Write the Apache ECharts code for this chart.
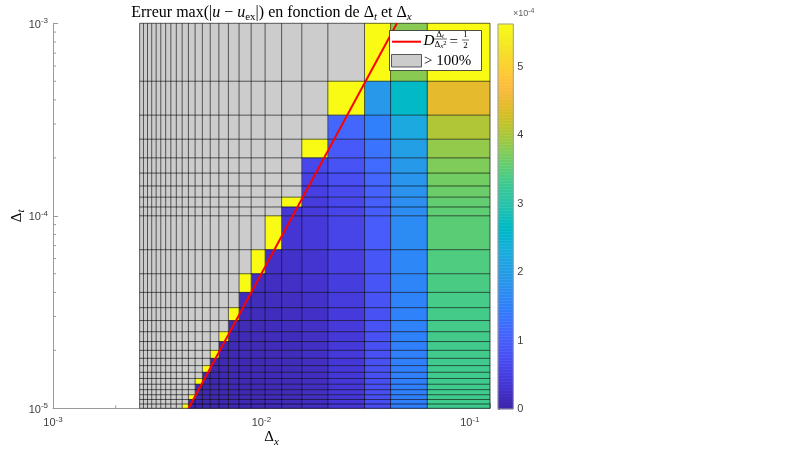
<!DOCTYPE html>
<html><head><meta charset="utf-8">
<script src="https://cdn.jsdelivr.net/npm/echarts@6/dist/echarts.min.js"></script>
<style>html,body{margin:0;padding:0;background:#fff}#c{width:792px;height:449px}</style>
</head><body><div id="c"></div>
<script>
// ---- grid of the study: Δx = 1/N, Δt = 1e-3/k ----
const nodesN = [8,16,24,32,48,64,80,96,112,128,144,160,176,192,208,224,240,256,272,288,304,320,336,352,368,384];
const stepsK = [1,2,3,4,5,6,7,8,9,10,15,20,25,30,35,40,45,50,55,60,65,70,75,80,85,90,95,100];
const dtMax = 1e-3;
// max error (×1e-4) per row (top Δt first); columns from Δx = 1/8 towards smaller Δx.
// cells after the end of a row are "> 100%" (grey); OVER = beyond the colour scale (shown yellow)
const OVER = 8;
const errRows = [
  [5.62, 3.80, OVER],
  [4.45, 2.63, 1.90, OVER],
  [4.05, 2.23, 1.50, 1.12],
  [3.86, 2.04, 1.31, 0.93, OVER],
  [3.74, 1.92, 1.19, 0.81, 0.63],
  [3.66, 1.84, 1.11, 0.73, 0.55],
  [3.61, 1.79, 1.06, 0.68, 0.50],
  [3.56, 1.74, 1.01, 0.63, 0.45, OVER],
  [3.53, 1.71, 0.98, 0.60, 0.42, 0.36],
  [3.51, 1.69, 0.96, 0.58, 0.40, 0.34, OVER],
  [3.43, 1.61, 0.88, 0.50, 0.32, 0.26, 0.24, OVER],
  [3.39, 1.57, 0.84, 0.46, 0.28, 0.22, 0.20, 0.18, OVER],
  [3.36, 1.54, 0.81, 0.43, 0.25, 0.19, 0.17, 0.15, 0.14],
  [3.35, 1.53, 0.80, 0.42, 0.24, 0.18, 0.16, 0.14, 0.13, OVER],
  [3.34, 1.52, 0.79, 0.41, 0.23, 0.17, 0.15, 0.13, 0.12, 0.11],
  [3.33, 1.51, 0.78, 0.40, 0.22, 0.16, 0.14, 0.12, 0.11, 0.10, OVER],
  [3.32, 1.50, 0.77, 0.39, 0.21, 0.15, 0.13, 0.11, 0.10, 0.10, 0.09],
  [3.32, 1.50, 0.77, 0.39, 0.21, 0.15, 0.12, 0.11, 0.10, 0.09, 0.09, OVER],
  [3.31, 1.49, 0.76, 0.38, 0.20, 0.14, 0.12, 0.10, 0.09, 0.09, 0.08, 0.08],
  [3.31, 1.49, 0.76, 0.38, 0.20, 0.14, 0.11, 0.10, 0.09, 0.08, 0.08, 0.07, OVER],
  [3.31, 1.49, 0.76, 0.38, 0.20, 0.14, 0.11, 0.10, 0.09, 0.08, 0.08, 0.07, 0.07],
  [3.30, 1.48, 0.75, 0.37, 0.19, 0.13, 0.11, 0.09, 0.08, 0.08, 0.07, 0.07, 0.06, OVER],
  [3.30, 1.48, 0.75, 0.37, 0.19, 0.13, 0.11, 0.09, 0.08, 0.07, 0.07, 0.07, 0.06, 0.06],
  [3.30, 1.48, 0.75, 0.37, 0.19, 0.13, 0.10, 0.09, 0.08, 0.07, 0.07, 0.06, 0.06, 0.06],
  [3.30, 1.48, 0.75, 0.37, 0.19, 0.13, 0.10, 0.09, 0.08, 0.07, 0.07, 0.06, 0.06, 0.06, OVER],
  [3.30, 1.48, 0.75, 0.37, 0.19, 0.13, 0.10, 0.09, 0.08, 0.07, 0.07, 0.06, 0.06, 0.06, 0.06],
  [3.29, 1.47, 0.74, 0.36, 0.18, 0.12, 0.10, 0.08, 0.07, 0.07, 0.06, 0.06, 0.05, 0.05, 0.05, OVER]
];
const cMax = 5.62;               // colour scale top (×1e-4)
const colorbarTicks = [0,1,2,3,4,5];
const stabDx = [0.004472, 0.04472]; // D Δt/Δx² = 1/2 line
const stabDt = [1e-5, 1e-3];
const xMinor = [2e-3,3e-3,4e-3,5e-3,6e-3,7e-3,8e-3,9e-3,2e-2,3e-2,4e-2,5e-2,6e-2,7e-2,8e-2,9e-2];
const yMinor = [2e-5,3e-5,4e-5,5e-5,6e-5,7e-5,8e-5,9e-5,2e-4,3e-4,4e-4,5e-4,6e-4,7e-4,8e-4,9e-4];

// ---- parula colormap ----
const PARULA = [[0.2422,0.1504,0.6603],[0.2504,0.1650,0.7076],[0.2578,0.1818,0.7511],[0.2647,0.1978,0.7952],[0.2706,0.2147,0.8364],[0.2751,0.2342,0.8710],[0.2783,0.2559,0.8991],[0.2803,0.2782,0.9221],[0.2813,0.3006,0.9414],[0.2810,0.3228,0.9579],[0.2795,0.3447,0.9717],[0.2760,0.3667,0.9829],[0.2699,0.3892,0.9906],[0.2602,0.4123,0.9952],[0.2440,0.4358,0.9988],[0.2206,0.4603,0.9973],[0.1963,0.4847,0.9892],[0.1834,0.5074,0.9798],[0.1786,0.5289,0.9682],[0.1764,0.5499,0.9520],[0.1687,0.5703,0.9359],[0.1540,0.5902,0.9218],[0.1460,0.6091,0.9079],[0.1380,0.6276,0.8973],[0.1248,0.6459,0.8883],[0.1113,0.6635,0.8763],[0.0952,0.6798,0.8598],[0.0689,0.6948,0.8394],[0.0297,0.7082,0.8163],[0.0036,0.7203,0.7917],[0.0067,0.7312,0.7660],[0.0433,0.7411,0.7394],[0.0964,0.7500,0.7120],[0.1408,0.7584,0.6842],[0.1717,0.7670,0.6554],[0.1938,0.7758,0.6251],[0.2161,0.7843,0.5923],[0.2470,0.7918,0.5567],[0.2906,0.7973,0.5188],[0.3406,0.8008,0.4789],[0.3909,0.8029,0.4354],[0.4456,0.8024,0.3909],[0.5044,0.7993,0.3480],[0.5616,0.7942,0.3045],[0.6174,0.7876,0.2612],[0.6720,0.7793,0.2227],[0.7242,0.7698,0.1910],[0.7738,0.7598,0.1646],[0.8203,0.7498,0.1535],[0.8634,0.7406,0.1596],[0.9035,0.7330,0.1774],[0.9393,0.7288,0.2100],[0.9728,0.7298,0.2394],[0.9956,0.7434,0.2371],[0.9970,0.7659,0.2199],[0.9952,0.7893,0.2028],[0.9892,0.8136,0.1885],[0.9786,0.8386,0.1766],[0.9676,0.8639,0.1643],[0.9610,0.8890,0.1537],[0.9597,0.9135,0.1423],[0.9628,0.9373,0.1265],[0.9691,0.9606,0.1064],[0.9769,0.9839,0.0805]];
function parula(f){
  f = Math.max(0, Math.min(1, f));
  const t = f*63, i = Math.min(62, Math.floor(t)), w = t - i;
  const a = PARULA[i], b = PARULA[i+1];
  return 'rgb(' + [0,1,2].map(j => Math.round(255*(a[j] + (b[j]-a[j])*w))).join(',') + ')';
}

// ---- build series data ----
const cells = [];
for (let r = 0; r < stepsK.length-1; r++) {
  const yTop = dtMax/stepsK[r], yBot = dtMax/stepsK[r+1];
  for (let c = 0; c < nodesN.length-1; c++) {
    const xR = 1/nodesN[c], xL = 1/nodesN[c+1];
    const v = c < errRows[r].length ? errRows[r][c] : -1;
    cells.push([xL, xR, yBot, yTop, v]);
  }
}
const xLo = 1/nodesN[nodesN.length-1], xHi = 1/nodesN[0];
const yLo = dtMax/stepsK[stepsK.length-1], yHi = dtMax/stepsK[0];
const vLines = nodesN.map(n => [1/n, yLo, yHi]);
const hLines = stepsK.map(k => [xLo, xHi, dtMax/k]);
const minorTicks = xMinor.map(v => [v, 1e-5, 0]).concat(yMinor.map(v => [1e-3, v, 1]));
const bands = [];
const NB = 128;
for (let i = 0; i < NB; i++) bands.push([0, 1, i/NB*cMax, (i+1)/NB*cMax, (i+0.5)/NB]);

const AX = '#9a9a9a', TXT = '#404040';
const SERIF = 'Liberation Serif';
const SANS = 'Liberation Sans';

function powLabel(v){
  const e = Math.log10(v);
  if (Math.abs(e - Math.round(e)) > 1e-6) return '';
  return '{b|10}{e|' + Math.round(e) + '}';
}
const powRich = {
  b: {fontFamily: SANS, fontSize: 11, color: TXT, lineHeight: 16},
  e: {fontFamily: SANS, fontSize: 8, color: TXT, lineHeight: 10, verticalAlign: 'top'}
};
const nameRich = {
  d: {fontFamily: SERIF, fontSize: 15, color: '#000', lineHeight: 20},
  s: {fontFamily: SERIF, fontSize: 11, fontStyle: 'italic', color: '#000', lineHeight: 12, verticalAlign: 'bottom'}
};

const chart = echarts.init(document.getElementById('c'), null, {renderer: 'canvas'});
chart.setOption({
  animation: false,
  backgroundColor: '#fff',
  grid: [
    {left: 53, top: 23.3, width: 437, height: 385, containLabel: false, outerBoundsMode: 'none'},
    {left: 498, top: 24, width: 15.3, height: 385, containLabel: false, outerBoundsMode: 'none'}
  ],
  xAxis: [
    {type: 'log', gridIndex: 0, min: 1e-3, max: 0.125, logBase: 10,
     axisLine: {show: true, lineStyle: {color: AX, width: 1}},
     axisTick: {show: true, inside: true, length: 5, lineStyle: {color: AX}},
     axisLabel: {formatter: powLabel, rich: powRich, margin: 7},
     splitLine: {show: false}, minorTick: {show: false},
     name: '{d|Δ}{s|x}', nameLocation: 'middle', nameGap: 19, nameMoveOverlap: false,
     nameTextStyle: {rich: nameRich, verticalAlign: 'top'}
    },
    {type: 'value', gridIndex: 1, min: 0, max: 1, show: false}
  ],
  yAxis: [
    {type: 'log', gridIndex: 0, min: 1e-5, max: 1e-3, logBase: 10,
     axisLine: {show: true, lineStyle: {color: AX, width: 1}},
     axisTick: {show: true, inside: true, length: 5, lineStyle: {color: AX}},
     axisLabel: {formatter: powLabel, rich: powRich, margin: 5, padding: [3, 0, 0, 0]},
     splitLine: {show: false}, minorTick: {show: false},
     name: '{d|Δ}{s|t}', nameLocation: 'middle', nameGap: 26, nameRotate: 90, nameMoveOverlap: false,
     nameTextStyle: {rich: nameRich}
    },
    {type: 'value', gridIndex: 1, min: 0, max: cMax, position: 'right',
     axisLine: {show: false},
     axisTick: {show: true, inside: false, length: 2, lineStyle: {color: '#666'}, customValues: colorbarTicks},
     axisLabel: {margin: 4, fontFamily: SANS, fontSize: 11, color: TXT, customValues: colorbarTicks},
     splitLine: {show: false}}
  ],
  series: [
    {type: 'custom', name: 'minor', xAxisIndex: 0, yAxisIndex: 0, z: 1, silent: true,
     data: minorTicks, encode: {x: 0, y: 1},
     renderItem: function(p, api){
       const pt = api.coord([api.value(0), api.value(1)]);
       const isY = api.value(2) === 1;
       return {type: 'line', shape: isY ? {x1: pt[0], y1: pt[1], x2: pt[0]+3, y2: pt[1]} : {x1: pt[0], y1: pt[1], x2: pt[0], y2: pt[1]-3},
               style: {stroke: AX, lineWidth: 1}};
     }},
    {type: 'custom', name: 'cells', xAxisIndex: 0, yAxisIndex: 0, z: 2, silent: true,
     data: cells, encode: {x: [0,1], y: [2,3]},
     renderItem: function(p, api){
       const a = api.coord([api.value(0), api.value(2)]);
       const b = api.coord([api.value(1), api.value(3)]);
       const v = api.value(4);
       const col = v < 0 ? '#cccccc' : parula(v/cMax);
       return {type: 'rect', shape: {x: a[0], y: b[1], width: b[0]-a[0], height: a[1]-b[1]},
               style: {fill: col, stroke: col, lineWidth: 0.3}};
     }},
    {type: 'custom', name: 'vgrid', xAxisIndex: 0, yAxisIndex: 0, z: 3, silent: true,
     data: vLines, encode: {x: 0, y: [1,2]},
     renderItem: function(p, api){
       const a = api.coord([api.value(0), api.value(1)]);
       const b = api.coord([api.value(0), api.value(2)]);
       return {type: 'line', shape: {x1: a[0], y1: a[1], x2: b[0], y2: b[1]}, style: {stroke: 'rgba(0,0,0,0.6)', lineWidth: 1}};
     }},
    {type: 'custom', name: 'hgrid', xAxisIndex: 0, yAxisIndex: 0, z: 3, silent: true,
     data: hLines, encode: {x: [0,1], y: 2},
     renderItem: function(p, api){
       const a = api.coord([api.value(0), api.value(2)]);
       const b = api.coord([api.value(1), api.value(2)]);
       return {type: 'line', shape: {x1: a[0], y1: a[1], x2: b[0], y2: b[1]}, style: {stroke: 'rgba(0,0,0,0.6)', lineWidth: 1}};
     }},
    {type: 'line', name: 'stab', xAxisIndex: 0, yAxisIndex: 0, z: 4, silent: true,
     data: stabDx.map((x, i) => [x, stabDt[i]]), showSymbol: false, symbol: 'none',
     lineStyle: {color: '#ff0000', width: 2}},
    {type: 'custom', name: 'colorbar', xAxisIndex: 1, yAxisIndex: 1, z: 2, silent: true,
     data: bands, encode: {x: [0,1], y: [2,3]},
     renderItem: function(p, api){
       const a = api.coord([api.value(0), api.value(2)]);
       const b = api.coord([api.value(1), api.value(3)]);
       const col = parula(api.value(4));
       return {type: 'rect', shape: {x: a[0], y: b[1], width: b[0]-a[0], height: a[1]-b[1]}, style: {fill: col, stroke: col, lineWidth: 0.5}};
     }},
    {type: 'custom', name: 'cbbox', xAxisIndex: 1, yAxisIndex: 1, z: 3, silent: true,
     data: [[0, 1, 0, cMax]], encode: {x: [0,1], y: [2,3]},
     renderItem: function(p, api){
       const a = api.coord([api.value(0), api.value(2)]);
       const b = api.coord([api.value(1), api.value(3)]);
       return {type: 'rect', shape: {x: a[0], y: b[1], width: b[0]-a[0], height: a[1]-b[1]}, style: {fill: 'none', stroke: '#a0a0a0', lineWidth: 1}};
     }}
  ],
  graphic: [
    {type: 'text', x: 271.5, y: 12.5, z: 100, silent: true,
     style: {text: '{n|Erreur max(|}{i|u}{n| − }{i|u}{sb|ex}{n||) en fonction de Δ}{si|t}{n| et Δ}{si|x}',
       align: 'center', verticalAlign: 'middle',
       rich: {
         n: {fontFamily: SERIF, fontSize: 16, fill: '#000', lineHeight: 20},
         i: {fontFamily: SERIF, fontSize: 16, fontStyle: 'italic', fill: '#000', lineHeight: 20},
         sb: {fontFamily: SERIF, fontSize: 11, fill: '#000', lineHeight: 12, verticalAlign: 'bottom'},
         si: {fontFamily: SERIF, fontSize: 11, fontStyle: 'italic', fill: '#000', lineHeight: 12, verticalAlign: 'bottom'}
       }}},
    {type: 'text', x: 513, y: 14, z: 100, silent: true,
     style: {text: '{a|×10}{e|-4}', verticalAlign: 'middle',
       rich: {a: {fontFamily: SANS, fontSize: 9, fill: '#606060', lineHeight: 12},
              e: {fontFamily: SANS, fontSize: 7, fill: '#606060', lineHeight: 8, verticalAlign: 'top'}}}},
    // legend
    {type: 'rect', z: 100, silent: true, shape: {x: 389.5, y: 30.5, width: 92, height: 40},
     style: {fill: '#fff', stroke: '#262626', lineWidth: 0.8}},
    {type: 'line', z: 101, silent: true, shape: {x1: 392, y1: 41.7, x2: 421, y2: 41.7},
     style: {stroke: '#ff0000', lineWidth: 2}},
    {type: 'text', z: 101, silent: true, x: 423.5, y: 41.5,
     style: {text: 'D', fontFamily: SERIF, fontSize: 15, fontStyle: 'italic', fill: '#000', verticalAlign: 'middle'}},
    {type: 'text', z: 101, silent: true, x: 440, y: 34.5,
     style: {text: '{d|Δ}{s|t}', align: 'center', verticalAlign: 'middle',
       rich: {d: {fontFamily: SERIF, fontSize: 9, fill: '#000', lineHeight: 10},
              s: {fontFamily: SERIF, fontSize: 7, fontStyle: 'italic', fill: '#000', lineHeight: 6, verticalAlign: 'bottom'}}}},
    {type: 'line', z: 101, silent: true, shape: {x1: 434, y1: 39, x2: 447, y2: 39}, style: {stroke: '#000', lineWidth: 0.6}},
    {type: 'text', z: 101, silent: true, x: 440.5, y: 44.5,
     style: {text: '{d|Δ}{s|x}{p|2}', align: 'center', verticalAlign: 'middle',
       rich: {d: {fontFamily: SERIF, fontSize: 9, fill: '#000', lineHeight: 10},
              s: {fontFamily: SERIF, fontSize: 7, fontStyle: 'italic', fill: '#000', lineHeight: 6, verticalAlign: 'bottom'},
              p: {fontFamily: SERIF, fontSize: 6.5, fill: '#000', lineHeight: 6, verticalAlign: 'top'}}}},
    {type: 'text', z: 101, silent: true, x: 449.5, y: 42.5,
     style: {text: '=', fontFamily: SERIF, fontSize: 15, fill: '#000', verticalAlign: 'middle'}},
    {type: 'text', z: 101, silent: true, x: 465.5, y: 35,
     style: {text: '1', fontFamily: SERIF, fontSize: 9, fill: '#000', align: 'center', verticalAlign: 'middle'}},
    {type: 'line', z: 101, silent: true, shape: {x1: 462, y1: 40, x2: 469, y2: 40}, style: {stroke: '#000', lineWidth: 0.6}},
    {type: 'text', z: 101, silent: true, x: 465.5, y: 45.5,
     style: {text: '2', fontFamily: SERIF, fontSize: 9, fill: '#000', align: 'center', verticalAlign: 'middle'}},
    {type: 'rect', z: 101, silent: true, shape: {x: 391.5, y: 54.5, width: 30, height: 12.5},
     style: {fill: '#cccccc', stroke: '#333', lineWidth: 0.8}},
    {type: 'text', z: 101, silent: true, x: 424, y: 61,
     style: {text: '> 100%', fontFamily: SERIF, fontSize: 15, fill: '#000', verticalAlign: 'middle'}}
  ]
});
</script></body></html>
